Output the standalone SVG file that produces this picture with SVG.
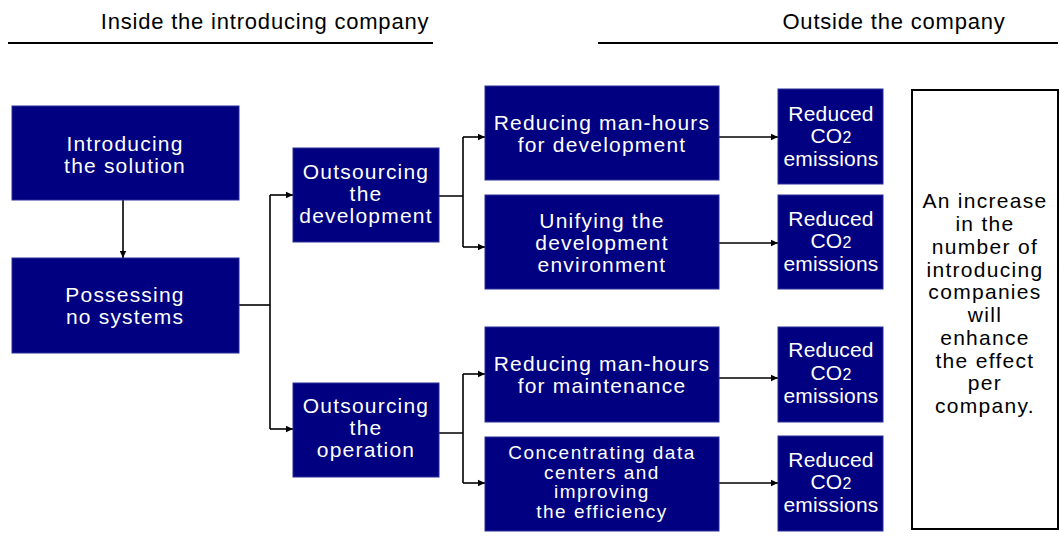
<svg xmlns="http://www.w3.org/2000/svg" width="1060" height="540" viewBox="0 0 1060 540">
<style>
.box{fill:#000080;stroke:#2a2f9a;stroke-width:1}
.t{font-family:"Liberation Sans",Arial,sans-serif;font-size:21px;fill:#fff;text-anchor:middle;letter-spacing:1.2px}
.s{font-family:"Liberation Sans",Arial,sans-serif;font-size:19px;fill:#fff;text-anchor:middle;letter-spacing:1.5px}
.c{font-family:"Liberation Sans",Arial,sans-serif;font-size:21px;fill:#fff;text-anchor:middle;letter-spacing:0.2px}
.k{font-family:"Liberation Sans",Arial,sans-serif;font-size:21px;fill:#000;text-anchor:middle;letter-spacing:1.3px}
.h{font-family:"Liberation Sans",Arial,sans-serif;font-size:22px;fill:#000;text-anchor:middle;letter-spacing:0.8px}
.ln{fill:none;stroke:#000;stroke-width:1.6}
.ar{fill:none;stroke:#000;stroke-width:1.6;marker-end:url(#ah)}
</style>
<defs>
<marker id="ah" markerWidth="8" markerHeight="8" refX="7" refY="4" orient="auto" markerUnits="userSpaceOnUse">
<path d="M0,0.8 L7,4 L0,7.2 Z" fill="#000"/>
</marker>
</defs>
<g id="headers">
<text class="h" x="265" y="29">Inside the introducing company</text>
<line x1="8" y1="43" x2="433" y2="43" stroke="#000" stroke-width="2"/>
<text class="h" x="894" y="29">Outside the company</text>
<line x1="598" y1="43" x2="1058" y2="43" stroke="#000" stroke-width="2"/>
</g>
<g id="connectors">
<path class="ar" d="M123,200 V258"/>
<path class="ln" d="M239,305 H270"/>
<path class="ln" d="M270,195 V429"/>
<path class="ar" d="M270,195 H293"/>
<path class="ar" d="M270,429 H293"/>
<path class="ln" d="M439,196 H463 M463,137 V247"/>
<path class="ar" d="M463,137 H485"/>
<path class="ar" d="M463,247 H485"/>
<path class="ln" d="M439,433 H463 M463,374 V483"/>
<path class="ar" d="M463,374 H485"/>
<path class="ar" d="M463,483 H485"/>
<path class="ar" d="M719,137 H778"/>
<path class="ar" d="M719,243 H778"/>
<path class="ar" d="M719,378 H778"/>
<path class="ar" d="M719,483 H778"/>
</g>
<g id="n-introducing">
<rect class="box" x="12" y="106" width="227" height="94"/>
<text class="t" x="125" y="151">Introducing</text>
<text class="t" x="125" y="173">the solution</text>
</g>
<g id="n-possessing">
<rect class="box" x="12" y="258" width="227" height="95"/>
<text class="t" x="125" y="302">Possessing</text>
<text class="t" x="125" y="324">no systems</text>
</g>
<g id="n-out-dev">
<rect class="box" x="293" y="148" width="146" height="94"/>
<text class="t" x="366" y="179">Outsourcing</text>
<text class="t" x="366" y="201">the</text>
<text class="t" x="366" y="223">development</text>
</g>
<g id="n-out-op">
<rect class="box" x="293" y="383" width="146" height="94"/>
<text class="t" x="366" y="413">Outsourcing</text>
<text class="t" x="366" y="435">the</text>
<text class="t" x="366" y="457">operation</text>
</g>
<g id="n-red-dev">
<rect class="box" x="485" y="86" width="234" height="94"/>
<text class="t" x="602" y="130">Reducing man-hours</text>
<text class="t" x="602" y="152">for development</text>
</g>
<g id="n-unify">
<rect class="box" x="485" y="195" width="234" height="94"/>
<text class="t" x="602" y="228">Unifying the</text>
<text class="t" x="602" y="250">development</text>
<text class="t" x="602" y="272">environment</text>
</g>
<g id="n-red-maint">
<rect class="box" x="485" y="327" width="234" height="95"/>
<text class="t" x="602" y="371">Reducing man-hours</text>
<text class="t" x="602" y="393">for maintenance</text>
</g>
<g id="n-concentrate">
<rect class="box" x="485" y="437" width="234" height="94"/>
<text class="s" x="602" y="459">Concentrating data</text>
<text class="s" x="602" y="479">centers and</text>
<text class="s" x="602" y="498">improving</text>
<text class="s" x="602" y="518">the efficiency</text>
</g>
<g id="n-co2-1">
<rect class="box" x="778" y="89" width="105" height="95"/>
<text class="c" x="831" y="121">Reduced</text>
<text class="c" x="831" y="143">CO<tspan font-size="16">2</tspan></text>
<text class="c" x="831" y="166">emissions</text>
</g>
<g id="n-co2-2">
<rect class="box" x="778" y="195" width="105" height="94"/>
<text class="c" x="831" y="226">Reduced</text>
<text class="c" x="831" y="248">CO<tspan font-size="16">2</tspan></text>
<text class="c" x="831" y="271">emissions</text>
</g>
<g id="n-co2-3">
<rect class="box" x="778" y="327" width="105" height="95"/>
<text class="c" x="831" y="357">Reduced</text>
<text class="c" x="831" y="380">CO<tspan font-size="16">2</tspan></text>
<text class="c" x="831" y="403">emissions</text>
</g>
<g id="n-co2-4">
<rect class="box" x="778" y="436" width="105" height="95"/>
<text class="c" x="831" y="467">Reduced</text>
<text class="c" x="831" y="489">CO<tspan font-size="16">2</tspan></text>
<text class="c" x="831" y="512">emissions</text>
</g>
<g id="n-effect">
<rect x="912" y="90" width="146" height="439" fill="#fff" stroke="#000" stroke-width="2"/>
<text class="k" x="985" y="208">An increase</text>
<text class="k" x="985" y="231">in the</text>
<text class="k" x="985" y="254">number of</text>
<text class="k" x="985" y="277">introducing</text>
<text class="k" x="985" y="299">companies</text>
<text class="k" x="985" y="322">will</text>
<text class="k" x="985" y="345">enhance</text>
<text class="k" x="985" y="368">the effect</text>
<text class="k" x="985" y="390">per</text>
<text class="k" x="985" y="413">company.</text>
</g>
</svg>
